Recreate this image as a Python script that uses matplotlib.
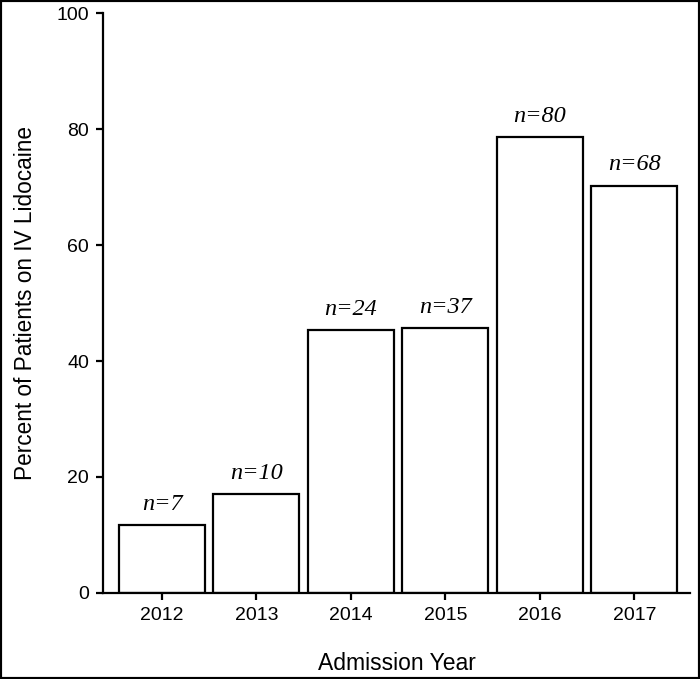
import matplotlib
matplotlib.use("Agg")
import matplotlib.pyplot as plt
from matplotlib.patches import Rectangle

years = ["2012", "2013", "2014", "2015", "2016", "2017"]
percent = [11.7, 17.0, 45.3, 45.7, 78.6, 70.2]
n_labels = ["n=7", "n=10", "n=24", "n=37", "n=80", "n=68"]
y_ticks = [0, 20, 40, 60, 80, 100]

fig = plt.figure(figsize=(7.0, 6.79), dpi=100)
ax = fig.add_axes([0.147, 0.1267, 0.839, 0.854])

x = list(range(len(years)))
ax.bar(x, percent, width=0.91, color="white", edgecolor="black", linewidth=1.6)
for xi, v, lab in zip(x, percent, n_labels):
    ax.annotate(lab, (xi, v), xytext=(0, 7.5), textcoords="offset points",
                ha="center", va="bottom", fontsize=17.5, fontstyle="italic",
                family="Liberation Serif")

ax.set_xlim(-0.625, 5.59)
ax.set_ylim(0, 100)
ax.set_xticks(x)
ax.set_xticklabels(years, family="Liberation Sans", fontsize=14)
ax.set_yticks(y_ticks)
ax.set_yticklabels([str(t) for t in y_ticks], family="Liberation Sans", fontsize=14)
ax.tick_params(direction="out", length=5, width=1.6, pad=5)
for s in ["top", "right"]:
    ax.spines[s].set_visible(False)
for s in ["left", "bottom"]:
    ax.spines[s].set_linewidth(1.6)

ax.set_xlabel("Admission Year", family="Liberation Sans", fontsize=16.5, labelpad=20)
ax.set_ylabel("Percent of Patients on IV Lidocaine", family="Liberation Sans",
              fontsize=16.3, labelpad=14)

fig.patches.append(Rectangle((0, 0), 1, 1, transform=fig.transFigure,
                             fill=False, edgecolor="black", linewidth=3))

fig.savefig("out.png", dpi=100)
